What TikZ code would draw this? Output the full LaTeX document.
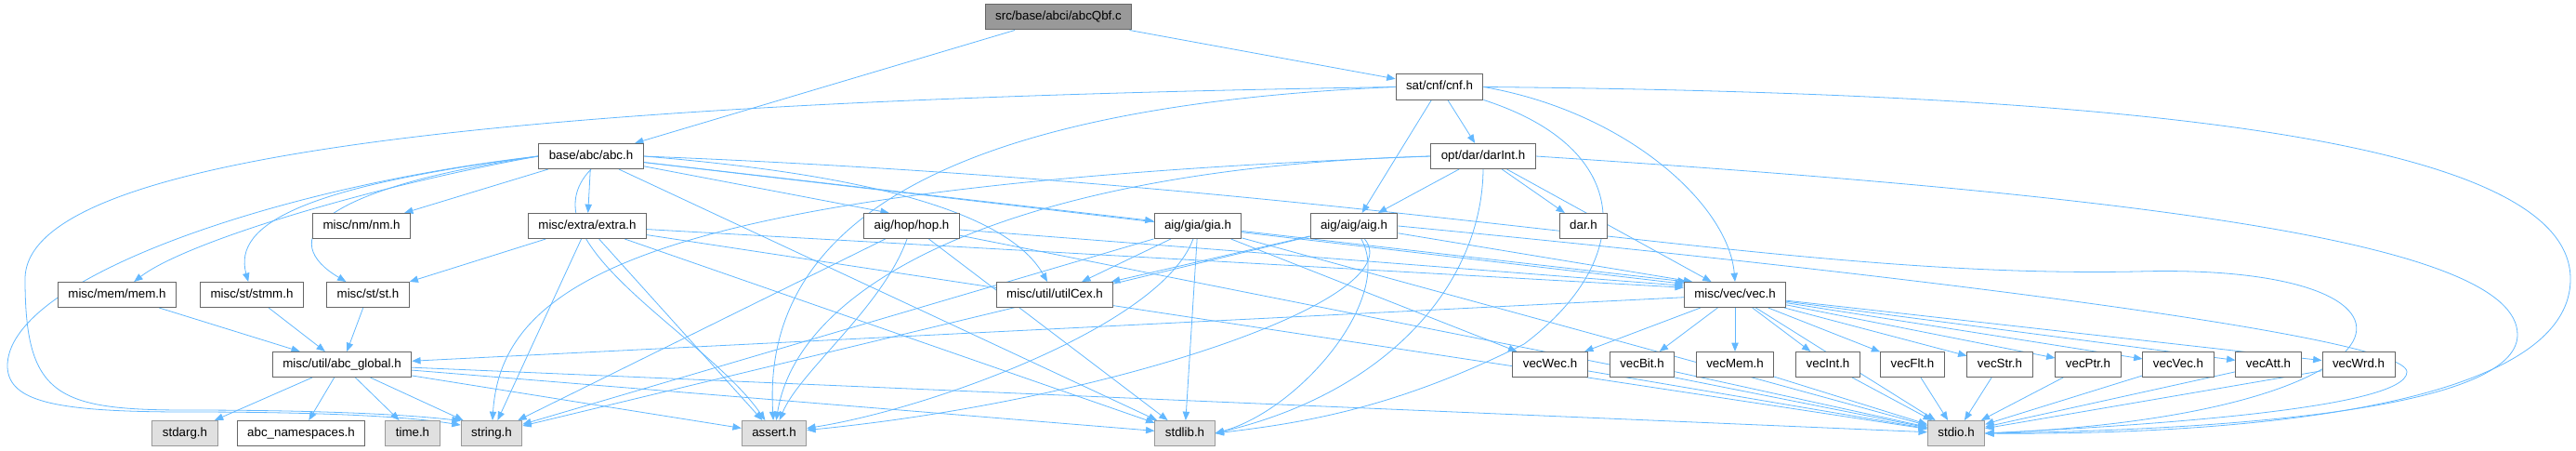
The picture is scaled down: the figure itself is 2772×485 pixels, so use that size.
\documentclass[tikz,border=0pt]{standalone}
\usepackage{fontspec}
\setmainfont{Liberation Sans}
\usetikzlibrary{arrows.meta,positioning,backgrounds}

\definecolor{edgeblue}{HTML}{63B8FF}
\definecolor{boxline}{HTML}{666666}
\definecolor{sysline}{HTML}{999999}
\definecolor{sysfill}{HTML}{E0E0E0}
\definecolor{mainfill}{HTML}{999999}

\begin{document}
\begin{tikzpicture}[
    x=0.75pt,y=-0.75pt,
    >={Triangle[length=7pt,width=5.5pt]},
    file/.style={
        draw=boxline, line width=0.75pt,
        rectangle,
        fill=white,
        minimum height=20.25pt,
        inner xsep=8.25pt, inner ysep=0pt,
        text height=7.2pt, text depth=2pt,
        font=\fontsize{10}{12}\selectfont,
        text=black
    },
    sysfile/.style={
        file,
        draw=sysline,
        fill=sysfill
    },
    mainfile/.style={
        file,
        fill=mainfill
    },
    dep/.style={
        ->,
        draw=edgeblue,
        line width=0.6pt
    }
]
\useasboundingbox (0,0) rectangle (2772,485);

% ====== top ======
\node[mainfile] (main)   at (1139,18.5) {src/base/abci/abcQbf.c};
\node[file] (cnf)        at (1549,93.5) {sat/cnf/cnf.h};
\node[file] (abc)        at (636,168)   {base/abc/abc.h};
\node[file] (darint)     at (1596,168)  {opt/dar/darInt.h};

% ====== level 3 ======
\node[file] (nm)         at (389,243)   {misc/nm/nm.h};
\node[file] (extra)      at (632,243)   {misc/extra/extra.h};
\node[file] (hop)        at (981,243)   {aig/hop/hop.h};
\node[file] (gia)        at (1289,243)  {aig/gia/gia.h};
\node[file] (aig)        at (1457,243)  {aig/aig/aig.h};
\node[file] (dar)        at (1704,243)  {dar.h};

% ====== level 4 ======
\node[file] (mem)        at (126,317)   {misc/mem/mem.h};
\node[file] (stmm)       at (271,317)   {misc/st/stmm.h};
\node[file] (st)         at (396,317)   {misc/st/st.h};
\node[file] (utilcex)    at (1135,317)  {misc/util/utilCex.h};
\node[file] (vec)        at (1867,317)  {misc/vec/vec.h};

% ====== level 5 ======
\node[file] (abcglobal)  at (368,392)   {misc/util/abc\_global.h};
\node[file] (vecwec)     at (1668,392)  {vecWec.h};
\node[file] (vecbit)     at (1767,392)  {vecBit.h};
\node[file] (vecmem)     at (1867,392)  {vecMem.h};
\node[file] (vecint)     at (1967,392)  {vecInt.h};
\node[file] (vecflt)     at (2058,392)  {vecFlt.h};
\node[file] (vecstr)     at (2152,392)  {vecStr.h};
\node[file] (vecptr)     at (2247,392)  {vecPtr.h};
\node[file] (vecvec)     at (2344,392)  {vecVec.h};
\node[file] (vecatt)     at (2441,392)  {vecAtt.h};
\node[file] (vecwrd)     at (2538,392)  {vecWrd.h};

% ====== system headers ======
\node[sysfile] (stdarg)  at (199,466)   {stdarg.h};
\node[file] (abcns)      at (324,466)   {abc\_namespaces.h};
\node[sysfile] (time)    at (444,466)   {time.h};
\node[sysfile] (string)  at (529,466)   {string.h};
\node[sysfile] (assert)  at (833,466)   {assert.h};
\node[sysfile] (stdlib)  at (1275,466)  {stdlib.h};
\node[sysfile] (stdio)   at (2105,466)  {stdio.h};

\begin{scope}[on background layer]
% main file
\draw[dep] (main) -- (abc);
\draw[dep] (main) -- (cnf);

% cnf.h
\draw[dep] (cnf) -- (darint);
\draw[dep] (cnf) -- (aig);
\draw[dep] (cnf.east) .. controls (1750,120) and (1860,220) .. (vec.north);
\draw[dep] (cnf.west) .. controls (600,108) and (27,160) .. (27,300) .. controls (27,425) and (60,441) .. (200,441) .. controls (350,441) and (440,446) .. (string.158);
\draw[dep] (cnf.west) .. controls (1000,115) and (820,250) .. (assert);
\draw[dep] (cnf.south east) .. controls (1760,160) and (1760,280) .. (1640,370) .. controls (1500,440) and (1400,455) .. (stdlib.east);
\draw[dep] (cnf.east) .. controls (2300,100) and (2766,150) .. (2766,300) .. controls (2766,440) and (2400,468) .. (stdio.east);

% abc.h
\draw[dep] (abc) -- (nm);
\draw[dep] (abc) -- (extra);
\draw[dep] (abc) -- (hop.150);
\draw[dep] (abc) -- (gia);
\draw[dep] (abc.west) .. controls (400,200) and (200,260) .. (mem);
\draw[dep] (abc.west) .. controls (330,200) and (250,240) .. (stmm);
\draw[dep] (abc.west) .. controls (330,205) and (300,260) .. (st);
\draw[dep] (abc.east) .. controls (900,185) and (1080,220) .. (utilcex);
\draw[dep] (abc) -- (vec.168);
\draw[dep] (abc.west) .. controls (300,200) and (5,300) .. (8,395) .. controls (10,432) and (60,443) .. (200,443) .. controls (350,443) and (440,448) .. (string.165);
\draw[dep] (abc.south) .. controls (560,260) and (760,360) .. (assert);
\draw[dep] (abc) -- (stdlib);
\draw[dep] (abc.east) .. controls (1500,200) and (1900,300) .. (2300,292) .. controls (2650,282) and (2620,445) .. (stdio.east);

% darInt.h
\draw[dep] (darint) -- (aig);
\draw[dep] (darint) -- (dar);
\draw[dep] (darint) -- (vec);
\draw[dep] (darint.west) .. controls (700,200) and (540,300) .. (string);
\draw[dep] (darint.west) .. controls (1100,180) and (860,300) .. (assert);
\draw[dep] (darint.south) .. controls (1595,300) and (1500,420) .. (stdlib.east);
\draw[dep] (darint.east) .. controls (2300,210) and (2709,260) .. (2709,360) .. controls (2709,440) and (2400,462) .. (stdio.east);

% extra.h
\draw[dep] (extra) -- (st);
\draw[dep] (extra) -- (vec.172);
\draw[dep] (extra) -- (string);
\draw[dep] (extra) -- (assert);
\draw[dep] (extra) -- (stdlib);
\draw[dep] (extra) -- (stdio);

% hop.h
\draw[dep] (hop) -- (vec.170);
\draw[dep] (hop) -- (string);
\draw[dep] (hop) .. controls (950,330) and (860,400) .. (assert);
\draw[dep] (hop) -- (stdlib);
\draw[dep] (hop) -- (stdio);

% gia.h
\draw[dep] (gia) -- (vec.165);
\draw[dep] (gia) -- (vecwec);
\draw[dep] (gia) -- (utilcex);
\draw[dep] (gia) -- (string);
\draw[dep] (gia) .. controls (1250,350) and (1000,440) .. (assert);
\draw[dep] (gia) -- (stdlib);
\draw[dep] (gia) -- (stdio);

% aig.h
\draw[dep] (aig) -- (vec.163);
\draw[dep] (aig) -- (utilcex);
\draw[dep] (aig) -- (string);
\draw[dep] (aig) .. controls (1520,320) and (1200,430) .. (assert);
\draw[dep] (aig) .. controls (1500,320) and (1400,440) .. (stdlib.east);
\draw[dep] (aig.east) .. controls (2000,290) and (2590,360) .. (2590,400) .. controls (2590,440) and (2300,458) .. (stdio.east);

% vec.h
\draw[dep] (vec) -- (abcglobal);
\draw[dep] (vec) -- (stdio);
\foreach \v in {vecwec,vecbit,vecmem,vecint,vecflt,vecstr,vecptr,vecvec,vecatt,vecwrd}{
    \draw[dep] (vec) -- (\v);
    \draw[dep] (\v) -- (stdio);
}

% st / mem
\draw[dep] (mem) -- (abcglobal);
\draw[dep] (stmm) -- (abcglobal);
\draw[dep] (st) -- (abcglobal);

% abc_global.h
\draw[dep] (abcglobal) -- (stdarg);
\draw[dep] (abcglobal) -- (abcns);
\draw[dep] (abcglobal) -- (time);
\draw[dep] (abcglobal) -- (string);
\draw[dep] (abcglobal) -- (assert);
\draw[dep] (abcglobal) -- (stdlib);
\draw[dep] (abcglobal) -- (stdio);
\end{scope}

\end{tikzpicture}
\end{document}
